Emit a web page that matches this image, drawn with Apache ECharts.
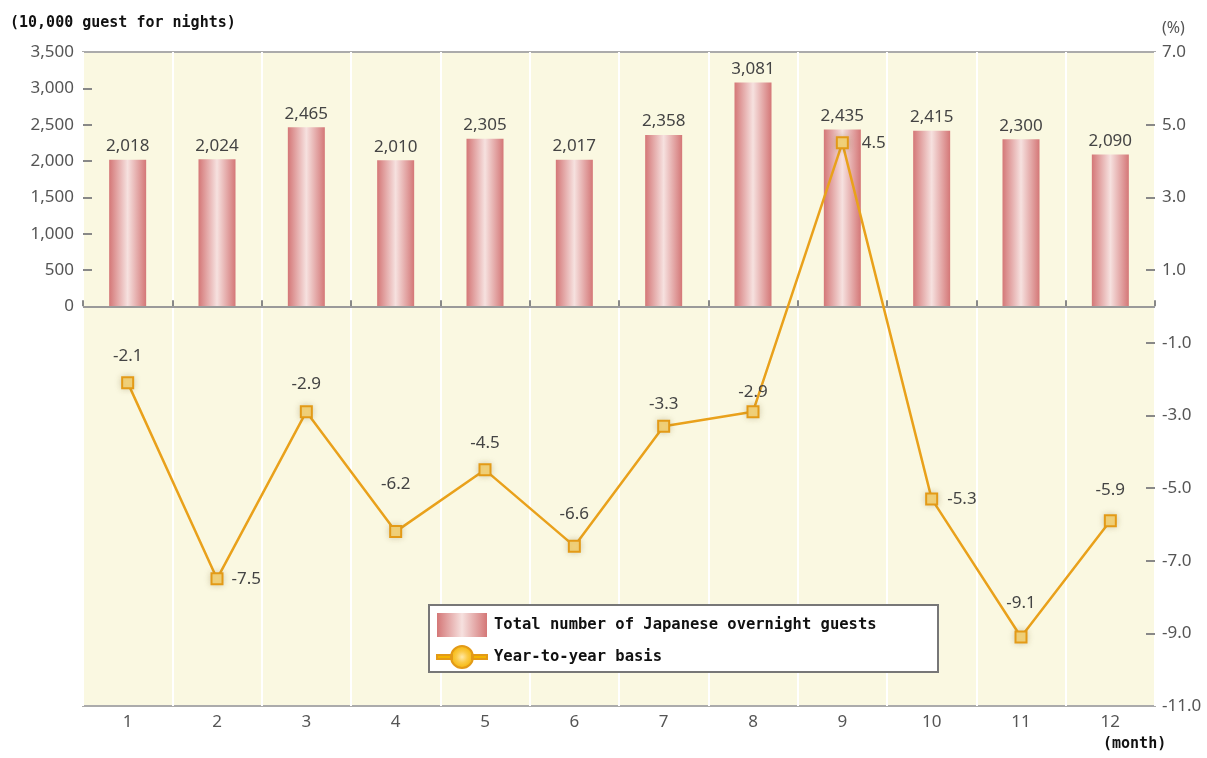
<!DOCTYPE html>
<html>
<head>
<meta charset="utf-8">
<script src="https://cdn.jsdelivr.net/npm/echarts@6/dist/echarts.min.js"></script>
<style>html,body{margin:0;padding:0;background:#fff;}#c{width:1207px;height:758px;}</style>
</head>
<body>
<div id="c"></div>
<script>
const months = ['1','2','3','4','5','6','7','8','9','10','11','12'];
const guests = [2018, 2024, 2465, 2010, 2305, 2017, 2358, 3081, 2435, 2415, 2300, 2090];
const yoy = [-2.1, -7.5, -2.9, -6.2, -4.5, -6.6, -3.3, -2.9, 4.5, -5.3, -9.1, -5.9];
const yoyLabelPos = ['top','right','top','top','top','top','top','top','right','right','top','top'];
const yoyLabelGap = [11, 8, 13, 32, 12, 17, 7, 5, 13, 9, 19, 16];
const leftTicks = [0, 500, 1000, 1500, 2000, 2500, 3000, 3500];
const rightTicks = [-11, -9, -7, -5, -3, -1, 1, 3, 5, 7];
const barName = 'Total number of Japanese overnight guests';
const lineName = 'Year-to-year basis';

const chart = echarts.init(document.getElementById('c'));
const labelFont = 'Noto Sans';
const mono = 'DejaVu Sans Mono';

const barGrad = new echarts.graphic.LinearGradient(0, 0, 1, 0, [
  {offset: 0, color: '#D47777'},
  {offset: 0.5, color: '#F6E1DF'},
  {offset: 1, color: '#D47777'}
]);

chart.setOption({
  animation: false,
  backgroundColor: '#fff',
  grid: {left: 83, right: 52, top: 52, bottom: 52, show: true,
    backgroundColor: '#FAF8E1', borderColor: '#ABABAB', borderWidth: 2},
  xAxis: {
    type: 'category', data: months, boundaryGap: true,
    axisLine: {show: false},
    axisTick: {show: true, inside: true, length: 6, lineStyle: {color: '#888', width: 2}},
    axisLabel: {margin: 8, fontFamily: labelFont, fontSize: 17, color: '#555'},
    splitLine: {show: true, lineStyle: {color: '#FFFFFF', width: 2}}
  },
  yAxis: [
    {
      type: 'value', min: -5500, max: 3500, interval: 500,
      axisLine: {show: false},
      splitLine: {show: false},
      axisTick: {show: true, inside: true, length: 9, lineStyle: {color: '#888', width: 2},
        customValues: leftTicks.slice(1, -1)},
      axisLabel: {margin: 9, fontFamily: labelFont, fontSize: 17, color: '#555',
        customValues: leftTicks,
        formatter: v => v.toLocaleString('en-US')}
    },
    {
      type: 'value', min: -11, max: 7, interval: 1,
      axisLine: {show: false},
      splitLine: {show: false},
      axisTick: {show: true, inside: true, length: 9, lineStyle: {color: '#888', width: 2},
        customValues: rightTicks.slice(1, -1)},
      axisLabel: {margin: 7, fontFamily: labelFont, fontSize: 17, color: '#555',
        customValues: rightTicks,
        formatter: v => v.toFixed(1)}
    }
  ],
  legend: {
    orient: 'vertical', left: 436, top: 613, padding: 0, itemGap: 8, itemWidth: 50, itemHeight: 24,
    z: 20,
    textStyle: {fontFamily: mono, fontWeight: 'bold', fontSize: 15.5, color: '#111', padding: [0, 0, 0, 2]},
    data: [
      {name: barName, icon: 'rect'},
      {name: lineName,
       icon: 'path://M0,10 L15,10 L15,14 L0,14 Z M35,10 L50,10 L50,14 L35,14 Z M36,12 A11,11 0 1,1 14,12 A11,11 0 1,1 36,12 Z',
       itemStyle: {color: {type: 'radial', x: 0.5, y: 0.5, r: 0.5,
         colorStops: [{offset: 0, color: '#FFE9A8'}, {offset: 0.45, color: '#FBCB4A'}, {offset: 1, color: '#F4B400'}]}}}
    ]
  },
  graphic: [
    {type: 'rect', left: 428, top: 604, z: 15, shape: {width: 509, height: 67},
      style: {fill: '#FFFFFF', stroke: '#777777', lineWidth: 2}},
    {type: 'text', left: 10, top: 16, style: {text: '(10,000 guest for nights)', fontFamily: mono, fontWeight: 'bold', fontSize: 15, fill: '#111'}},
    {type: 'text', left: 1162, top: 20, style: {text: '(%)', fontFamily: labelFont, fontSize: 16, fill: '#555'}},
    {type: 'text', left: 1103, top: 737, style: {text: '(month)', fontFamily: mono, fontWeight: 'bold', fontSize: 15, fill: '#111'}}
  ],
  series: [
    {
      name: barName, type: 'bar', yAxisIndex: 0, data: guests, barWidth: 37,
      itemStyle: {color: barGrad},
      label: {show: true, position: 'top', distance: 5, fontFamily: labelFont, fontSize: 17, color: '#444',
        formatter: p => p.value.toLocaleString('en-US')},
      markLine: {silent: true, symbol: 'none', label: {show: false},
        lineStyle: {color: '#9A9A9A', width: 2, type: 'solid'},
        data: [{yAxis: 0}]}
    },
    {
      name: lineName, type: 'line', yAxisIndex: 1, z: 5,
      data: yoy.map((v, i) => ({value: v, label: {position: yoyLabelPos[i], distance: yoyLabelGap[i]}})),
      symbol: 'rect', symbolSize: 11,
      lineStyle: {color: '#E9A11B', width: 2.5},
      itemStyle: {color: '#F8D77E', borderColor: '#E39A17', borderWidth: 2,
        shadowColor: 'rgba(120,100,40,0.25)', shadowBlur: 6},
      label: {show: true, fontFamily: labelFont, fontSize: 17, color: '#444',
        formatter: p => p.value.toFixed(1)}
    }
  ]
});
</script>
</body>
</html>
